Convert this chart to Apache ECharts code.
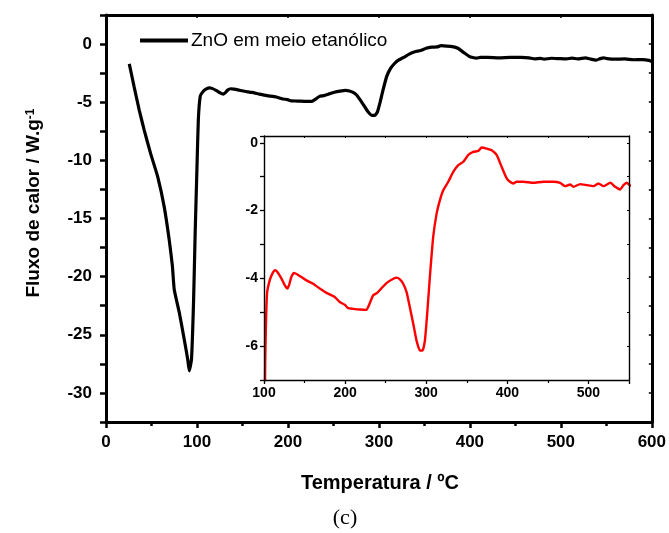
<!DOCTYPE html>
<html>
<head>
<meta charset="utf-8">
<script src="https://cdn.jsdelivr.net/npm/echarts@6/dist/echarts.min.js"></script>
<style>
html,body{margin:0;padding:0;background:#fff;}
#chart{width:669px;height:533px;}
</style>
</head>
<body>
<div id="chart"></div>
<script>
// Temperature (ºC)
const temps = [25.6, 31, 36.6, 42, 49, 56.8, 64, 69.6, 73, 75, 80.6, 86, 89.8, 91.5, 94, 96.3, 98, 100, 101.5, 103.7,
  107, 110.3, 113.6, 116.5, 121.4, 125.5, 128.8, 130.9, 133.7, 137, 140.7, 146, 152.3, 160.5, 168.7, 177, 187.2, 193.4, 199.6, 203.7,
  210, 218, 226.3, 230.5, 234.6, 239.5, 244.9, 251, 257.2, 263.4, 267.5, 271.6, 275.7, 279.8, 284, 288, 292.2, 295.5, 298.4, 301.2,
  304.5, 308.6, 312.8, 316.9, 321, 327.2, 333.3, 339.5, 345.7, 351.9, 358, 364.2, 368.3, 374.5, 380.7, 386.8, 393, 399.2, 403.3, 407.4,
  411.5, 419.8, 432, 444.4, 456.8, 465, 471.2, 477.4, 481.5, 489.7, 498, 506.2, 512.3, 518.5, 527, 533, 539, 543.2, 547.3, 550.6,
  560, 570, 580, 590, 597, 600];
// Heat flow (W/g)
const flux = [-1.7, -3.7, -5.7, -7.4, -9.4, -11.4, -14, -16.9, -19.1, -21.1, -23.1, -25.4, -27.1, -28.1, -27.1, -22, -16.3, -10.6, -6.5, -4.45,
  -4.06, -3.86, -3.76, -3.81, -4.0, -4.2, -4.3, -4.2, -3.96, -3.84, -3.88, -3.96, -4.06, -4.16, -4.3, -4.43, -4.55, -4.7, -4.78, -4.88,
  -4.9, -4.92, -4.93, -4.73, -4.5, -4.43, -4.29, -4.14, -4.04, -3.98, -4.03, -4.16, -4.4, -4.85, -5.34, -5.83, -6.13, -6.13, -5.83, -5.04,
  -3.96, -2.78, -2.09, -1.69, -1.4, -1.15, -0.86, -0.66, -0.56, -0.36, -0.27, -0.24, -0.14, -0.17, -0.22, -0.36, -0.71, -1.05, -1.15, -1.2,
  -1.15, -1.15, -1.18, -1.15, -1.15, -1.18, -1.28, -1.23, -1.3, -1.22, -1.25, -1.28, -1.2, -1.28, -1.18, -1.3, -1.38, -1.25, -1.18, -1.25,
  -1.3, -1.28, -1.35, -1.33, -1.4, -1.5];

const seriesName = 'ZnO em meio etanólico';
const xTitle = 'Temperatura / ºC';
const yTitle = 'Fluxo de calor / W.g';
const ySup = '-1';
const caption = '(c)';

const data = temps.map((t, i) => [t, flux[i]]);
const F = 'Liberation Sans, Arial, sans-serif';

const chart = echarts.init(document.getElementById('chart'), null, {renderer: 'canvas'});

function mainAxisCommon(extra) {
  return Object.assign({
    type: 'value',
    splitLine: {show: false},
    axisLine: {show: true, onZero: false, lineStyle: {color: '#000', width: 3}},
  }, extra);
}
function insetAxisCommon(extra) {
  return Object.assign({
    type: 'value', gridIndex: 1, z: 8,
    splitLine: {show: false},
    axisLine: {show: true, onZero: false, lineStyle: {color: '#000', width: 1.4}},
  }, extra);
}

const option = {
  backgroundColor: '#fff',
  animation: false,
  grid: [
    {left: 106, right: 17, top: 15, bottom: 111, show: false},
    {left: 264, top: 136, width: 365, height: 244, show: true, backgroundColor: '#fff', borderWidth: 0}
  ],
  legend: {
    data: [seriesName],
    left: 135, top: 26,
    icon: 'rect', itemWidth: 48, itemHeight: 4, itemGap: 4,
    textStyle: {fontFamily: F, fontSize: 19, color: '#000', padding: [0, 0, 0, -2]}
  },
  xAxis: [
    mainAxisCommon({gridIndex: 0, min: 0, max: 600, interval: 100, position: 'bottom',
      axisTick: {show: true, length: 6, lineStyle: {color: '#000', width: 2.5}},
      minorTick: {show: true, splitNumber: 2, length: 4, lineStyle: {color: '#000', width: 2.5}},
      axisLabel: {fontFamily: F, fontWeight: 'bold', fontSize: 17, color: '#000', margin: 12}}),
    mainAxisCommon({gridIndex: 0, min: 0, max: 600, interval: 100, position: 'top',
      axisTick: {show: true, inside: true, length: 3, lineStyle: {color: '#000', width: 1.5}},
      minorTick: {show: true, splitNumber: 2, length: 2, lineStyle: {color: '#000', width: 1.5}},
      axisLabel: {show: false}}),
    insetAxisCommon({min: 100, max: 550, interval: 100, position: 'bottom',
      axisTick: {show: true, length: 4, lineStyle: {color: '#000', width: 1.3}},
      minorTick: {show: true, splitNumber: 2, length: 3, lineStyle: {color: '#000', width: 1.2}},
      axisLabel: {fontFamily: F, fontWeight: 'bold', fontSize: 14, color: '#000', margin: 6,
        formatter: v => (v % 100 === 0 ? String(v) : '')}}),
    insetAxisCommon({min: 100, max: 550, interval: 100, position: 'top',
      axisTick: {show: true, inside: true, length: 2, lineStyle: {color: '#000', width: 1}},
      minorTick: {show: true, splitNumber: 2, length: 2, lineStyle: {color: '#000', width: 1}},
      axisLabel: {show: false}})
  ],
  yAxis: [
    mainAxisCommon({gridIndex: 0, min: -32.5, max: 2.5, interval: 2.5, position: 'left',
      axisTick: {show: true, length: 6, lineStyle: {color: '#000', width: 2.5}},
      axisLabel: {fontFamily: F, fontWeight: 'bold', fontSize: 17, color: '#000', margin: 14,
        formatter: v => (Math.abs(v % 5) < 1e-6 ? String(Math.round(v)) : '')}}),
    mainAxisCommon({gridIndex: 0, min: -32.5, max: 2.5, interval: 2.5, position: 'right',
      axisTick: {show: true, inside: true, length: 3, lineStyle: {color: '#000', width: 1.5}},
      axisLabel: {show: false}}),
    insetAxisCommon({min: -7, max: 0.2, interval: 1, position: 'left',
      axisTick: {show: true, length: 4, lineStyle: {color: '#000', width: 1.3}},
      axisLabel: {fontFamily: F, fontWeight: 'bold', fontSize: 14, color: '#000', margin: 6,
        formatter: v => (Number.isInteger(v) && v % 2 === 0 ? String(v) : '')}}),
    insetAxisCommon({min: -7, max: 0.2, interval: 1, position: 'right',
      axisTick: {show: true, inside: true, length: 2, lineStyle: {color: '#000', width: 1}},
      axisLabel: {show: false}})
  ],
  series: [
    {name: seriesName, type: 'line', xAxisIndex: 0, yAxisIndex: 0, data: data,
      symbol: 'none', smooth: 0.15, clip: true,
      lineStyle: {color: '#000', width: 3.2}, itemStyle: {color: '#000'}, z: 3},
    {name: 'inset', type: 'line', xAxisIndex: 2, yAxisIndex: 2, data: data,
      symbol: 'none', smooth: 0.15, clip: true,
      lineStyle: {color: '#ff0000', width: 2.4}, itemStyle: {color: '#ff0000'}, z: 6}
  ],
  graphic: [
    {type: 'text', x: 34, y: 203, rotation: Math.PI / 2,
      style: {text: yTitle + '{sup|' + ySup + '}', fill: '#000', font: 'bold 19px ' + F,
        align: 'center', verticalAlign: 'middle',
        rich: {sup: {fontSize: 12, fontWeight: 'bold', fontFamily: F, fill: '#000', verticalAlign: 'top', lineHeight: 12, padding: [0, 0, 10, 0]}}}},
    {type: 'text', x: 380, y: 483,
      style: {text: xTitle, fill: '#000', font: 'bold 20px ' + F, align: 'center', verticalAlign: 'middle'}},
    {type: 'text', x: 345, y: 518,
      style: {text: caption, fill: '#000', font: '22px Liberation Serif, Times New Roman, serif', align: 'center', verticalAlign: 'middle'}}
  ]
};
chart.setOption(option);
</script>
</body>
</html>
